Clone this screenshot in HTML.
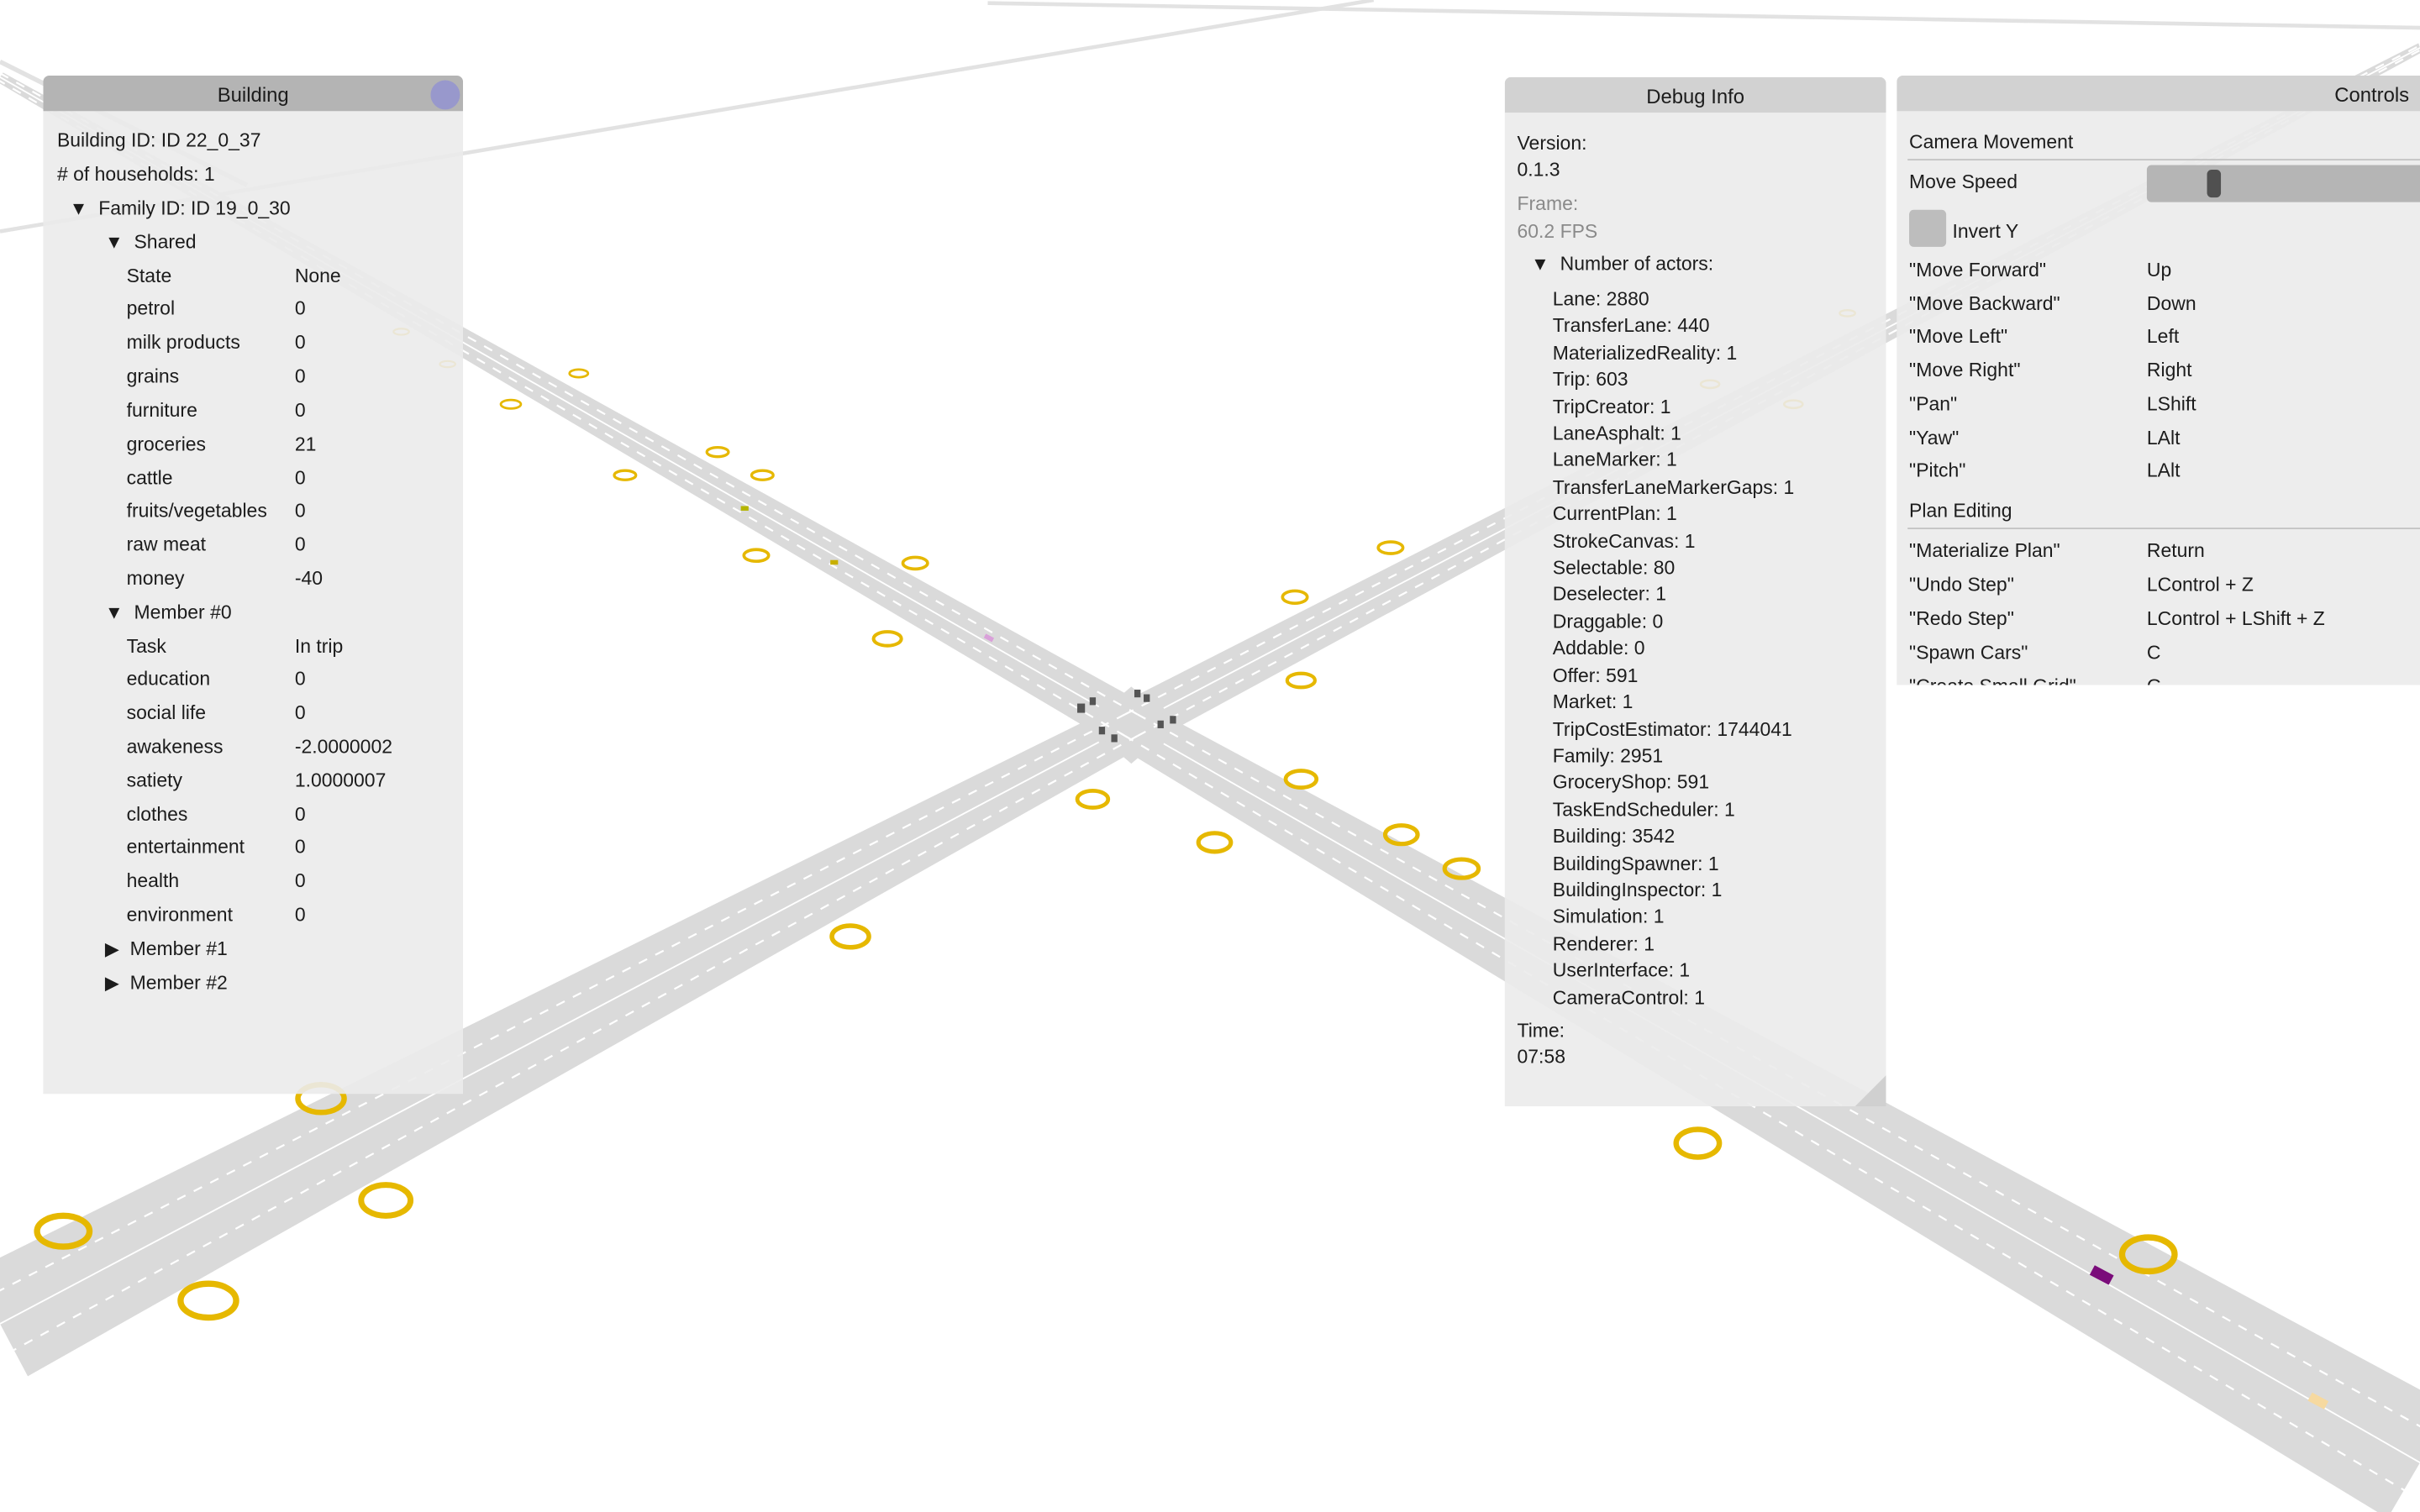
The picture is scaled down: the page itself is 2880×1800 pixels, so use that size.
<!DOCTYPE html>
<html><head><meta charset="utf-8"><style>
html,body{margin:0;padding:0;width:2880px;height:1800px;overflow:hidden;background:#fff}
#s{position:absolute;left:0;top:0;width:1568px;height:980px;transform:scale(1.83674);transform-origin:0 0;font-family:"Liberation Sans","DejaVu Sans",sans-serif;font-size:12.5px;color:#1c1c1c}
.p{position:absolute;background:rgba(235,235,235,0.9);border-radius:4px 4px 0 0;overflow:hidden}
.h{position:absolute;left:0;right:0;top:0;height:23px;line-height:25px;text-align:center;font-size:13px}
.t{position:absolute;white-space:nowrap;line-height:14px;transform:translateY(-7px)}
.tri{font-size:12px}
.g{color:#8a8a8a}
</style></head><body><div id="s">
<svg width="1568" height="980" style="position:absolute;left:0;top:0">
<g fill="none" stroke="#e2e2e2">
<line x1="0" y1="150" x2="890" y2="0" stroke-width="2.5"/>
<line x1="640" y1="2" x2="1568" y2="18" stroke-width="2.5"/>
<line x1="0" y1="40" x2="160" y2="120" stroke-width="3"/>
</g>
<g fill="#dadada">
<polygon points="741,456 725,484 -2,53 2,47"/>
<polygon points="725,484 741,456 1589,912 1547,984"/>
<polygon points="740,484 726,456 -18,824 18,892"/>
<polygon points="740,484 726,456 1567,28 1569,34"/>
<polygon points="733,445 762,470 733,495 704,470"/>
</g>
<g stroke="#fff" stroke-width="1.2" stroke-dasharray="6 6" fill="none">
<line x1="737" y1="463" x2="1" y2="48"/><line x1="729" y1="477" x2="-1" y2="52"/>
<line x1="729" y1="477" x2="1558" y2="966"/><line x1="737" y1="463" x2="1578" y2="930"/>
<line x1="737" y1="477" x2="9" y2="875"/><line x1="729" y1="463" x2="-9" y2="841"/>
<line x1="737" y1="477" x2="1569" y2="32"/><line x1="729" y1="463" x2="1567" y2="30"/>
</g>
<g stroke="#fff" stroke-width="1" fill="none">
<line x1="712" y1="458" x2="0" y2="50"/><line x1="754" y1="482" x2="1568" y2="948"/>
<line x1="712" y1="481" x2="0" y2="858"/><line x1="754" y1="459" x2="1568" y2="31"/>
</g>
<g fill="none" stroke="#e6b800">
<ellipse cx="375" cy="242" rx="6" ry="2.5" stroke-width="1.5"/>
<ellipse cx="331" cy="262" rx="6.5" ry="2.8" stroke-width="1.5"/>
<ellipse cx="465" cy="293" rx="7" ry="3" stroke-width="1.8"/>
<ellipse cx="494" cy="308" rx="7" ry="3" stroke-width="1.8"/>
<ellipse cx="405" cy="308" rx="7" ry="3" stroke-width="1.8"/>
<ellipse cx="490" cy="360" rx="8" ry="3.8" stroke-width="2"/>
<ellipse cx="593" cy="365" rx="8" ry="3.8" stroke-width="2"/>
<ellipse cx="575" cy="414" rx="9" ry="4.5" stroke-width="2.2"/>
<ellipse cx="901" cy="355" rx="8" ry="3.8" stroke-width="2"/>
<ellipse cx="839" cy="387" rx="8" ry="4" stroke-width="2"/>
<ellipse cx="843" cy="441" rx="9" ry="4.5" stroke-width="2.3"/>
<ellipse cx="843" cy="505" rx="10" ry="5.5" stroke-width="2.6"/>
<ellipse cx="708" cy="518" rx="10" ry="5.5" stroke-width="2.6"/>
<ellipse cx="787" cy="546" rx="10.5" ry="6" stroke-width="2.8"/>
<ellipse cx="908" cy="541" rx="10.5" ry="6" stroke-width="2.8"/>
<ellipse cx="947" cy="563" rx="11" ry="6" stroke-width="2.8"/>
<ellipse cx="551" cy="607" rx="12" ry="7" stroke-width="3"/>
<ellipse cx="208" cy="712" rx="15" ry="9" stroke-width="3.5"/>
<ellipse cx="250" cy="778" rx="16" ry="10" stroke-width="3.8"/>
<ellipse cx="41" cy="798" rx="17" ry="10" stroke-width="4"/>
<ellipse cx="135" cy="843" rx="18" ry="11" stroke-width="4"/>
<ellipse cx="1100" cy="741" rx="14" ry="9" stroke-width="3.5"/>
<ellipse cx="1392" cy="813" rx="17" ry="11" stroke-width="4"/>
<ellipse cx="1162" cy="262" rx="6" ry="2.5" stroke-width="1.4"/>
<ellipse cx="1108" cy="249" rx="6" ry="2.5" stroke-width="1.4"/>
<ellipse cx="1197" cy="203" rx="5" ry="2" stroke-width="1.3"/>
<ellipse cx="260" cy="215" rx="5" ry="2" stroke-width="1.2"/>
<ellipse cx="290" cy="236" rx="5" ry="2" stroke-width="1.2"/>
</g>
<g fill="#555">
<rect x="698" y="456" width="5" height="6"/><rect x="706" y="452" width="4" height="5"/>
<rect x="735" y="447" width="4" height="5"/><rect x="741" y="450" width="4" height="5"/>
<rect x="712" y="471" width="4" height="5"/><rect x="720" y="476" width="4" height="5"/>
<rect x="750" y="467" width="4" height="5"/><rect x="758" y="464" width="4" height="5"/>
</g>
<rect x="1355" y="823" width="14" height="7" fill="#7a0c7a" transform="rotate(28 1362 826)"/>
<rect x="1496" y="905" width="12" height="6" fill="#f6d9a0" transform="rotate(28 1502 908)"/>
<rect x="638" y="412" width="6" height="3" fill="#d9a0d9" transform="rotate(28 641 413)"/>
<rect x="480" y="328" width="5" height="3" fill="#b5b500"/>
<rect x="538" y="363" width="5" height="3" fill="#c8b000"/>
</svg>

<div class="p" style="left:28px;top:49px;width:272px;height:660px">
<div class="h" style="background:#b4b4b4">Building</div>
<div style="position:absolute;left:251px;top:3px;width:19px;height:19px;border-radius:50%;background:#9898cc"></div>
</div>
<div style="position:absolute;left:28px;top:49px">
<div class="t" style="left:9px;top:42px">Building ID: ID 22_0_37</div>
<div class="t" style="left:9px;top:64px"># of households: 1</div>
<div class="t" style="left:17px;top:86px"><span class="tri">▼</span>&nbsp;&nbsp;Family ID: ID 19_0_30</div>
<div class="t" style="left:40px;top:108px"><span class="tri">▼</span>&nbsp;&nbsp;Shared</div>
<div class="t" style="left:54px;top:130px">State</div><div class="t" style="left:163px;top:130px">None</div>
<div class="t" style="left:54px;top:151px">petrol</div><div class="t" style="left:163px;top:151px">0</div>
<div class="t" style="left:54px;top:173px">milk products</div><div class="t" style="left:163px;top:173px">0</div>
<div class="t" style="left:54px;top:195px">grains</div><div class="t" style="left:163px;top:195px">0</div>
<div class="t" style="left:54px;top:217px">furniture</div><div class="t" style="left:163px;top:217px">0</div>
<div class="t" style="left:54px;top:239px">groceries</div><div class="t" style="left:163px;top:239px">21</div>
<div class="t" style="left:54px;top:261px">cattle</div><div class="t" style="left:163px;top:261px">0</div>
<div class="t" style="left:54px;top:282px">fruits/vegetables</div><div class="t" style="left:163px;top:282px">0</div>
<div class="t" style="left:54px;top:304px">raw meat</div><div class="t" style="left:163px;top:304px">0</div>
<div class="t" style="left:54px;top:326px">money</div><div class="t" style="left:163px;top:326px">-40</div>
<div class="t" style="left:40px;top:348px"><span class="tri">▼</span>&nbsp;&nbsp;Member #0</div>
<div class="t" style="left:54px;top:370px">Task</div><div class="t" style="left:163px;top:370px">In trip</div>
<div class="t" style="left:54px;top:391px">education</div><div class="t" style="left:163px;top:391px">0</div>
<div class="t" style="left:54px;top:413px">social life</div><div class="t" style="left:163px;top:413px">0</div>
<div class="t" style="left:54px;top:435px">awakeness</div><div class="t" style="left:163px;top:435px">-2.0000002</div>
<div class="t" style="left:54px;top:457px">satiety</div><div class="t" style="left:163px;top:457px">1.0000007</div>
<div class="t" style="left:54px;top:479px">clothes</div><div class="t" style="left:163px;top:479px">0</div>
<div class="t" style="left:54px;top:500px">entertainment</div><div class="t" style="left:163px;top:500px">0</div>
<div class="t" style="left:54px;top:522px">health</div><div class="t" style="left:163px;top:522px">0</div>
<div class="t" style="left:54px;top:544px">environment</div><div class="t" style="left:163px;top:544px">0</div>
<div class="t" style="left:40px;top:566px"><span class="tri">▶</span>&nbsp;&nbsp;Member #1</div>
<div class="t" style="left:40px;top:588px"><span class="tri">▶</span>&nbsp;&nbsp;Member #2</div>
</div>

<div class="p" style="left:975px;top:50px;width:247px;height:667px">
<div class="h" style="background:#d2d2d2">Debug Info</div>
<div style="position:absolute;right:0;bottom:0;width:0;height:0;border-left:20px solid transparent;border-bottom:20px solid #d0d0d0"></div>
</div>
<div style="position:absolute;left:975px;top:50px">
<div class="t" style="left:8px;top:43px">Version:</div>
<div class="t" style="left:8px;top:60px">0.1.3</div>
<div class="t g" style="left:8px;top:82px">Frame:</div>
<div class="t g" style="left:8px;top:100px">60.2 FPS</div>
<div class="t" style="left:17px;top:121px"><span class="tri">▼</span>&nbsp;&nbsp;Number of actors:</div>
<div style="position:absolute;left:31px;top:136px;line-height:17.4px;white-space:nowrap">
Lane: 2880<br>TransferLane: 440<br>MaterializedReality: 1<br>Trip: 603<br>TripCreator: 1<br>LaneAsphalt: 1<br>LaneMarker: 1<br>TransferLaneMarkerGaps: 1<br>CurrentPlan: 1<br>StrokeCanvas: 1<br>Selectable: 80<br>Deselecter: 1<br>Draggable: 0<br>Addable: 0<br>Offer: 591<br>Market: 1<br>TripCostEstimator: 1744041<br>Family: 2951<br>GroceryShop: 591<br>TaskEndScheduler: 1<br>Building: 3542<br>BuildingSpawner: 1<br>BuildingInspector: 1<br>Simulation: 1<br>Renderer: 1<br>UserInterface: 1<br>CameraControl: 1</div>
<div class="t" style="left:8px;top:618px">Time:</div>
<div class="t" style="left:8px;top:635px">07:58</div>
</div>

<div class="p" style="left:1229px;top:49px;width:345px;height:395px">
<div class="h" style="background:#d2d2d2;text-align:right;padding-right:13px">Controls</div>
<div style="position:absolute;left:7px;right:0;top:54px;height:1px;background:#c4c4c4"></div>
<div style="position:absolute;left:7px;right:0;top:293px;height:1px;background:#c4c4c4"></div>
<div style="position:absolute;left:162px;top:58px;width:200px;height:24px;background:#b5b5b5;border-radius:3px"></div>
<div style="position:absolute;left:201px;top:61px;width:9px;height:18px;background:#505050;border-radius:3px"></div>
<div style="position:absolute;left:8px;top:87px;width:24px;height:24px;background:#bdbdbd;border-radius:3px"></div>
</div>
<div style="position:absolute;left:1229px;top:49px;width:339px;height:395px;overflow:hidden">
<div class="t" style="left:8px;top:43px">Camera Movement</div>
<div class="t" style="left:8px;top:69px">Move Speed</div>
<div class="t" style="left:36px;top:101px">Invert Y</div>
<div class="t" style="left:8px;top:126px">"Move Forward"</div><div class="t" style="left:162px;top:126px">Up</div>
<div class="t" style="left:8px;top:148px">"Move Backward"</div><div class="t" style="left:162px;top:148px">Down</div>
<div class="t" style="left:8px;top:169px">"Move Left"</div><div class="t" style="left:162px;top:169px">Left</div>
<div class="t" style="left:8px;top:191px">"Move Right"</div><div class="t" style="left:162px;top:191px">Right</div>
<div class="t" style="left:8px;top:213px">"Pan"</div><div class="t" style="left:162px;top:213px">LShift</div>
<div class="t" style="left:8px;top:235px">"Yaw"</div><div class="t" style="left:162px;top:235px">LAlt</div>
<div class="t" style="left:8px;top:256px">"Pitch"</div><div class="t" style="left:162px;top:256px">LAlt</div>
<div class="t" style="left:8px;top:282px">Plan Editing</div>
<div class="t" style="left:8px;top:308px">"Materialize Plan"</div><div class="t" style="left:162px;top:308px">Return</div>
<div class="t" style="left:8px;top:330px">"Undo Step"</div><div class="t" style="left:162px;top:330px">LControl + Z</div>
<div class="t" style="left:8px;top:352px">"Redo Step"</div><div class="t" style="left:162px;top:352px">LControl + LShift + Z</div>
<div class="t" style="left:8px;top:374px">"Spawn Cars"</div><div class="t" style="left:162px;top:374px">C</div>
<div class="t" style="left:8px;top:396px">"Create Small Grid"</div><div class="t" style="left:162px;top:396px">G</div>
</div>
</div></body></html>
